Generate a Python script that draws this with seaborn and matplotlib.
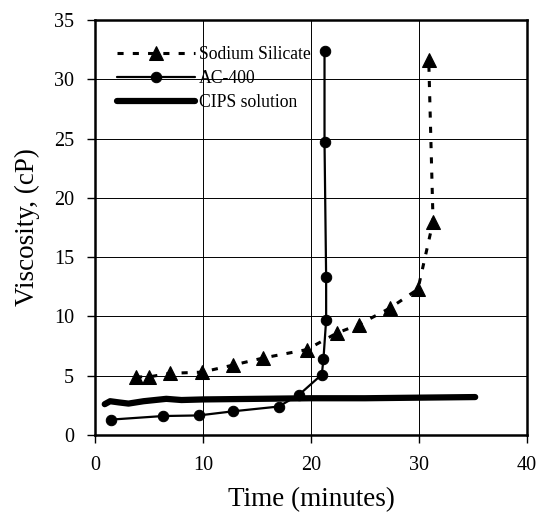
import matplotlib
matplotlib.use("Agg")
import matplotlib.pyplot as plt
import seaborn as sns
import pandas as pd

# Data
silicate_t = [3.8, 5.0, 6.9, 9.9, 12.8, 15.6, 19.6, 22.4, 24.4, 27.3, 29.9, 31.3, 30.9]
silicate_v = [4.9, 4.9, 5.2, 5.3, 5.9, 6.5, 7.2, 8.6, 9.3, 10.7, 12.3, 18.0, 31.6]

ac400_t = [1.5, 6.3, 9.6, 12.8, 17.0, 18.9, 21.0, 21.15, 21.4, 21.4, 21.25, 21.25]
ac400_v = [1.3, 1.6, 1.65, 2.0, 2.4, 3.4, 5.1, 6.4, 9.7, 13.3, 24.7, 32.4]

cips_t = [0.9, 1.4, 2.2, 3.1, 4.5, 6.6, 8.0, 10.0, 15.0, 20.0, 25.0, 30.0, 35.2]
cips_v = [2.6, 2.85, 2.75, 2.65, 2.85, 3.05, 2.95, 3.0, 3.05, 3.1, 3.1, 3.15, 3.2]

x_ticks = [0, 10, 20, 30, 40]
y_ticks = [0, 5, 10, 15, 20, 25, 30, 35]

sns.set_theme(style="white")
plt.rcParams["font.family"] = ["Liberation Serif", "DejaVu Serif"]

fig = plt.figure(figsize=(5.38, 5.17), dpi=100)
ax = fig.add_axes([0.1766, 0.1586, 0.8030, 0.8027])

df_s = pd.DataFrame({"t": silicate_t, "v": silicate_v})
df_a = pd.DataFrame({"t": ac400_t, "v": ac400_v})
df_c = pd.DataFrame({"t": cips_t, "v": cips_v})

sns.lineplot(data=df_s, x="t", y="v", ax=ax, sort=False, estimator=None,
             color="black", linestyle=(0, (2.0, 3.0)), linewidth=2.2,
             marker="^", markersize=10, markeredgecolor="black",
             label="Sodium Silicate")
sns.lineplot(data=df_a, x="t", y="v", ax=ax, sort=False, estimator=None,
             color="black", linewidth=1.6,
             marker="o", markersize=7.5, markeredgecolor="black",
             label="AC-400")
sns.lineplot(data=df_c, x="t", y="v", ax=ax, sort=False, estimator=None,
             color="black", linewidth=4.5, label="CIPS solution")

ax.set_xlim(0, 40)
ax.set_ylim(0, 35)
ax.set_xticks(x_ticks)
ax.set_yticks(y_ticks)
ax.grid(True, color="black", linewidth=0.7)
ax.set_axisbelow(True)
for s in ax.spines.values():
    s.set_color("black")
    s.set_linewidth(1.8)
ax.tick_params(axis="both", direction="out", length=6, width=1, color="black",
               labelsize=14.5, labelcolor="black", bottom=True, left=True, pad=9)
ax.set_xlabel("Time (minutes)", fontsize=19.5, color="black", labelpad=9)
ax.set_ylabel("Viscosity, (cP)", fontsize=19.5, color="black", labelpad=10)

leg = ax.legend(loc="upper left", frameon=False, fontsize=12.7,
                handlelength=4.4, handletextpad=0.25, labelspacing=0.4,
                borderpad=0, borderaxespad=0, bbox_to_anchor=(0.051, 0.938))
for t in leg.get_texts():
    t.set_color("black")

fig.savefig("out.png", dpi=100)
